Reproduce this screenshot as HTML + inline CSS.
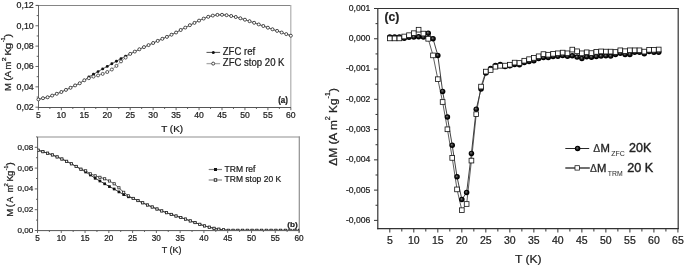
<!DOCTYPE html>
<html><head><meta charset="utf-8"><style>
html,body{margin:0;padding:0;background:#fff;}
body{width:685px;height:266px;overflow:hidden;}
svg{display:block;will-change:transform;}
text{font-family:"Liberation Sans", sans-serif;stroke:#222;stroke-width:0.24px;}
</style></head><body>
<svg width="685" height="266" viewBox="0 0 685 266" font-family='"Liberation Sans", sans-serif'>
<defs><radialGradient id="sph" cx="0.5" cy="0.5" r="0.5" fx="0.4" fy="0.38"><stop offset="0" stop-color="#8a8a8a"/><stop offset="0.4" stop-color="#2a2a2a"/><stop offset="0.75" stop-color="#000"/><stop offset="1" stop-color="#000"/></radialGradient></defs>
<rect width="685" height="266" fill="#fff"/>
<line x1="36.00" y1="5.50" x2="291.00" y2="5.50" stroke="#858585" stroke-width="1"/>
<line x1="290.80" y1="5.00" x2="290.80" y2="107.50" stroke="#b0b0b0" stroke-width="1.2"/>
<line x1="38.50" y1="5.00" x2="38.50" y2="107.70" stroke="#666" stroke-width="1"/>
<line x1="38.00" y1="107.50" x2="291.00" y2="107.50" stroke="#555" stroke-width="1"/>
<line x1="38.40" y1="107.50" x2="38.40" y2="110.20" stroke="#555" stroke-width="0.9"/>
<text x="38.40" y="117.80" font-size="8.6" text-anchor="middle" font-weight="normal" fill="#222">5</text>
<line x1="49.88" y1="107.50" x2="49.88" y2="109.00" stroke="#555" stroke-width="0.9"/>
<line x1="61.35" y1="107.50" x2="61.35" y2="110.20" stroke="#555" stroke-width="0.9"/>
<text x="61.35" y="117.80" font-size="8.6" text-anchor="middle" font-weight="normal" fill="#222">10</text>
<line x1="72.82" y1="107.50" x2="72.82" y2="109.00" stroke="#555" stroke-width="0.9"/>
<line x1="84.30" y1="107.50" x2="84.30" y2="110.20" stroke="#555" stroke-width="0.9"/>
<text x="84.30" y="117.80" font-size="8.6" text-anchor="middle" font-weight="normal" fill="#222">15</text>
<line x1="95.78" y1="107.50" x2="95.78" y2="109.00" stroke="#555" stroke-width="0.9"/>
<line x1="107.25" y1="107.50" x2="107.25" y2="110.20" stroke="#555" stroke-width="0.9"/>
<text x="107.25" y="117.80" font-size="8.6" text-anchor="middle" font-weight="normal" fill="#222">20</text>
<line x1="118.72" y1="107.50" x2="118.72" y2="109.00" stroke="#555" stroke-width="0.9"/>
<line x1="130.20" y1="107.50" x2="130.20" y2="110.20" stroke="#555" stroke-width="0.9"/>
<text x="130.20" y="117.80" font-size="8.6" text-anchor="middle" font-weight="normal" fill="#222">25</text>
<line x1="141.67" y1="107.50" x2="141.67" y2="109.00" stroke="#555" stroke-width="0.9"/>
<line x1="153.15" y1="107.50" x2="153.15" y2="110.20" stroke="#555" stroke-width="0.9"/>
<text x="153.15" y="117.80" font-size="8.6" text-anchor="middle" font-weight="normal" fill="#222">30</text>
<line x1="164.62" y1="107.50" x2="164.62" y2="109.00" stroke="#555" stroke-width="0.9"/>
<line x1="176.10" y1="107.50" x2="176.10" y2="110.20" stroke="#555" stroke-width="0.9"/>
<text x="176.10" y="117.80" font-size="8.6" text-anchor="middle" font-weight="normal" fill="#222">35</text>
<line x1="187.57" y1="107.50" x2="187.57" y2="109.00" stroke="#555" stroke-width="0.9"/>
<line x1="199.05" y1="107.50" x2="199.05" y2="110.20" stroke="#555" stroke-width="0.9"/>
<text x="199.05" y="117.80" font-size="8.6" text-anchor="middle" font-weight="normal" fill="#222">40</text>
<line x1="210.53" y1="107.50" x2="210.53" y2="109.00" stroke="#555" stroke-width="0.9"/>
<line x1="222.00" y1="107.50" x2="222.00" y2="110.20" stroke="#555" stroke-width="0.9"/>
<text x="222.00" y="117.80" font-size="8.6" text-anchor="middle" font-weight="normal" fill="#222">45</text>
<line x1="233.47" y1="107.50" x2="233.47" y2="109.00" stroke="#555" stroke-width="0.9"/>
<line x1="244.95" y1="107.50" x2="244.95" y2="110.20" stroke="#555" stroke-width="0.9"/>
<text x="244.95" y="117.80" font-size="8.6" text-anchor="middle" font-weight="normal" fill="#222">50</text>
<line x1="256.43" y1="107.50" x2="256.43" y2="109.00" stroke="#555" stroke-width="0.9"/>
<line x1="267.90" y1="107.50" x2="267.90" y2="110.20" stroke="#555" stroke-width="0.9"/>
<text x="267.90" y="117.80" font-size="8.6" text-anchor="middle" font-weight="normal" fill="#222">55</text>
<line x1="279.38" y1="107.50" x2="279.38" y2="109.00" stroke="#555" stroke-width="0.9"/>
<line x1="290.85" y1="107.50" x2="290.85" y2="110.20" stroke="#555" stroke-width="0.9"/>
<text x="290.85" y="117.80" font-size="8.6" text-anchor="middle" font-weight="normal" fill="#222">60</text>
<line x1="38.50" y1="107.20" x2="35.50" y2="107.20" stroke="#555" stroke-width="0.9"/>
<text x="33.80" y="110.00" font-size="8.9" text-anchor="end" font-weight="normal" fill="#222">0,02</text>
<line x1="38.50" y1="97.02" x2="36.70" y2="97.02" stroke="#555" stroke-width="0.9"/>
<line x1="38.50" y1="86.84" x2="35.50" y2="86.84" stroke="#555" stroke-width="0.9"/>
<text x="33.80" y="89.64" font-size="8.9" text-anchor="end" font-weight="normal" fill="#222">0,04</text>
<line x1="38.50" y1="76.66" x2="36.70" y2="76.66" stroke="#555" stroke-width="0.9"/>
<line x1="38.50" y1="66.48" x2="35.50" y2="66.48" stroke="#555" stroke-width="0.9"/>
<text x="33.80" y="69.28" font-size="8.9" text-anchor="end" font-weight="normal" fill="#222">0,06</text>
<line x1="38.50" y1="56.30" x2="36.70" y2="56.30" stroke="#555" stroke-width="0.9"/>
<line x1="38.50" y1="46.12" x2="35.50" y2="46.12" stroke="#555" stroke-width="0.9"/>
<text x="33.80" y="48.92" font-size="8.9" text-anchor="end" font-weight="normal" fill="#222">0,08</text>
<line x1="38.50" y1="35.94" x2="36.70" y2="35.94" stroke="#555" stroke-width="0.9"/>
<line x1="38.50" y1="25.76" x2="35.50" y2="25.76" stroke="#555" stroke-width="0.9"/>
<text x="33.80" y="28.56" font-size="8.9" text-anchor="end" font-weight="normal" fill="#222">0,10</text>
<line x1="38.50" y1="15.58" x2="36.70" y2="15.58" stroke="#555" stroke-width="0.9"/>
<line x1="38.50" y1="5.40" x2="35.50" y2="5.40" stroke="#555" stroke-width="0.9"/>
<text x="33.80" y="8.20" font-size="8.9" text-anchor="end" font-weight="normal" fill="#222">0,12</text>
<text x="161.20" y="131.80" font-size="9.7" text-anchor="start" font-weight="normal" fill="#222" textLength="21.9" lengthAdjust="spacingAndGlyphs">T (K)</text>
<g transform="translate(11.2,90.6) rotate(-90)">
<text x="-0.49" y="0.00" font-size="9.9" fill="#222" textLength="7.89" lengthAdjust="spacingAndGlyphs">M</text>
<text x="9.81" y="0.00" font-size="9.9" fill="#222" textLength="3.39" lengthAdjust="spacingAndGlyphs">(</text>
<text x="13.21" y="0.00" font-size="9.9" fill="#222" textLength="6.59" lengthAdjust="spacingAndGlyphs">A</text>
<text x="21.01" y="0.00" font-size="9.9" fill="#222" textLength="7.79" lengthAdjust="spacingAndGlyphs">m</text>
<text x="29.25" y="-5.40" font-size="5.9" fill="#222" textLength="3.91" lengthAdjust="spacingAndGlyphs">2</text>
<text x="35.01" y="0.00" font-size="9.9" fill="#222" textLength="6.99" lengthAdjust="spacingAndGlyphs">K</text>
<text x="41.41" y="0.00" font-size="9.9" fill="#222" textLength="6.59" lengthAdjust="spacingAndGlyphs">g</text>
<text x="48.25" y="-6.40" font-size="5.9" fill="#222" textLength="5.11" lengthAdjust="spacingAndGlyphs">-1</text>
<text x="53.21" y="0.00" font-size="9.9" fill="#222" textLength="3.79" lengthAdjust="spacingAndGlyphs">)</text>
</g>
<polyline fill="none" stroke="#111" stroke-width="0.7" points="38.40,99.40 42.99,98.20 47.58,97.30 52.17,95.60 56.76,93.80 61.35,92.00 65.94,89.90 70.53,87.80 75.12,85.40 79.71,83.30 84.30,80.30 88.89,76.90 93.48,74.30 98.07,71.60 102.66,68.90 107.25,66.40 111.84,63.80 116.43,61.20 121.02,58.60 125.61,56.10 130.20,53.90 134.79,51.60 139.38,49.30 143.97,47.10 148.56,45.10 153.15,43.00 157.74,40.90 162.33,38.80 166.92,36.90 171.51,34.70 176.10,32.50 180.69,30.00 185.28,27.60 189.87,25.20 194.46,22.90 199.05,20.60 203.64,18.60 208.23,16.80 212.82,15.60 217.41,14.90 222.00,14.80 226.59,15.20 231.18,16.00 235.77,17.00 240.36,18.30 244.95,19.70 249.54,21.20 254.13,22.80 258.72,24.40 263.31,26.00 267.90,27.70 272.49,29.30 277.08,30.90 281.67,32.50 286.26,34.10 290.85,35.70"/>
<polyline fill="none" stroke="#777" stroke-width="0.7" points="38.40,99.40 42.99,98.20 47.58,97.30 52.17,95.60 56.76,93.80 61.35,92.00 65.94,89.90 70.53,87.80 75.12,85.40 79.71,83.30 84.30,80.30 88.89,78.20 93.48,76.60 98.07,75.40 102.66,73.90 107.25,72.00 111.84,69.50 116.43,65.90 121.02,61.40 125.61,57.60 130.20,53.90 134.79,51.60 139.38,49.30 143.97,47.10 148.56,45.10 153.15,43.00 157.74,40.90 162.33,38.80 166.92,36.90 171.51,34.70 176.10,32.50 180.69,30.00 185.28,27.60 189.87,25.20 194.46,22.90 199.05,20.60 203.64,18.60 208.23,16.80 212.82,15.60 217.41,14.90 222.00,14.80 226.59,15.20 231.18,16.00 235.77,17.00 240.36,18.30 244.95,19.70 249.54,21.20 254.13,22.80 258.72,24.40 263.31,26.00 267.90,27.70 272.49,29.30 277.08,30.90 281.67,32.50 286.26,34.10 290.85,35.70"/>
<circle cx="38.40" cy="99.40" r="1.45" fill="#111"/>
<circle cx="42.99" cy="98.20" r="1.45" fill="#111"/>
<circle cx="47.58" cy="97.30" r="1.45" fill="#111"/>
<circle cx="52.17" cy="95.60" r="1.45" fill="#111"/>
<circle cx="56.76" cy="93.80" r="1.45" fill="#111"/>
<circle cx="61.35" cy="92.00" r="1.45" fill="#111"/>
<circle cx="65.94" cy="89.90" r="1.45" fill="#111"/>
<circle cx="70.53" cy="87.80" r="1.45" fill="#111"/>
<circle cx="75.12" cy="85.40" r="1.45" fill="#111"/>
<circle cx="79.71" cy="83.30" r="1.45" fill="#111"/>
<circle cx="84.30" cy="80.30" r="1.45" fill="#111"/>
<circle cx="88.89" cy="76.90" r="1.45" fill="#111"/>
<circle cx="93.48" cy="74.30" r="1.45" fill="#111"/>
<circle cx="98.07" cy="71.60" r="1.45" fill="#111"/>
<circle cx="102.66" cy="68.90" r="1.45" fill="#111"/>
<circle cx="107.25" cy="66.40" r="1.45" fill="#111"/>
<circle cx="111.84" cy="63.80" r="1.45" fill="#111"/>
<circle cx="116.43" cy="61.20" r="1.45" fill="#111"/>
<circle cx="121.02" cy="58.60" r="1.45" fill="#111"/>
<circle cx="125.61" cy="56.10" r="1.45" fill="#111"/>
<circle cx="130.20" cy="53.90" r="1.45" fill="#111"/>
<circle cx="134.79" cy="51.60" r="1.45" fill="#111"/>
<circle cx="139.38" cy="49.30" r="1.45" fill="#111"/>
<circle cx="143.97" cy="47.10" r="1.45" fill="#111"/>
<circle cx="148.56" cy="45.10" r="1.45" fill="#111"/>
<circle cx="153.15" cy="43.00" r="1.45" fill="#111"/>
<circle cx="157.74" cy="40.90" r="1.45" fill="#111"/>
<circle cx="162.33" cy="38.80" r="1.45" fill="#111"/>
<circle cx="166.92" cy="36.90" r="1.45" fill="#111"/>
<circle cx="171.51" cy="34.70" r="1.45" fill="#111"/>
<circle cx="176.10" cy="32.50" r="1.45" fill="#111"/>
<circle cx="180.69" cy="30.00" r="1.45" fill="#111"/>
<circle cx="185.28" cy="27.60" r="1.45" fill="#111"/>
<circle cx="189.87" cy="25.20" r="1.45" fill="#111"/>
<circle cx="194.46" cy="22.90" r="1.45" fill="#111"/>
<circle cx="199.05" cy="20.60" r="1.45" fill="#111"/>
<circle cx="203.64" cy="18.60" r="1.45" fill="#111"/>
<circle cx="208.23" cy="16.80" r="1.45" fill="#111"/>
<circle cx="212.82" cy="15.60" r="1.45" fill="#111"/>
<circle cx="217.41" cy="14.90" r="1.45" fill="#111"/>
<circle cx="222.00" cy="14.80" r="1.45" fill="#111"/>
<circle cx="226.59" cy="15.20" r="1.45" fill="#111"/>
<circle cx="231.18" cy="16.00" r="1.45" fill="#111"/>
<circle cx="235.77" cy="17.00" r="1.45" fill="#111"/>
<circle cx="240.36" cy="18.30" r="1.45" fill="#111"/>
<circle cx="244.95" cy="19.70" r="1.45" fill="#111"/>
<circle cx="249.54" cy="21.20" r="1.45" fill="#111"/>
<circle cx="254.13" cy="22.80" r="1.45" fill="#111"/>
<circle cx="258.72" cy="24.40" r="1.45" fill="#111"/>
<circle cx="263.31" cy="26.00" r="1.45" fill="#111"/>
<circle cx="267.90" cy="27.70" r="1.45" fill="#111"/>
<circle cx="272.49" cy="29.30" r="1.45" fill="#111"/>
<circle cx="277.08" cy="30.90" r="1.45" fill="#111"/>
<circle cx="281.67" cy="32.50" r="1.45" fill="#111"/>
<circle cx="286.26" cy="34.10" r="1.45" fill="#111"/>
<circle cx="290.85" cy="35.70" r="1.45" fill="#111"/>
<circle cx="38.40" cy="99.40" r="1.5" fill="#fff" stroke="#333" stroke-width="0.8"/>
<circle cx="42.99" cy="98.20" r="1.5" fill="#fff" stroke="#333" stroke-width="0.8"/>
<circle cx="47.58" cy="97.30" r="1.5" fill="#fff" stroke="#333" stroke-width="0.8"/>
<circle cx="52.17" cy="95.60" r="1.5" fill="#fff" stroke="#333" stroke-width="0.8"/>
<circle cx="56.76" cy="93.80" r="1.5" fill="#fff" stroke="#333" stroke-width="0.8"/>
<circle cx="61.35" cy="92.00" r="1.5" fill="#fff" stroke="#333" stroke-width="0.8"/>
<circle cx="65.94" cy="89.90" r="1.5" fill="#fff" stroke="#333" stroke-width="0.8"/>
<circle cx="70.53" cy="87.80" r="1.5" fill="#fff" stroke="#333" stroke-width="0.8"/>
<circle cx="75.12" cy="85.40" r="1.5" fill="#fff" stroke="#333" stroke-width="0.8"/>
<circle cx="79.71" cy="83.30" r="1.5" fill="#fff" stroke="#333" stroke-width="0.8"/>
<circle cx="84.30" cy="80.30" r="1.5" fill="#fff" stroke="#333" stroke-width="0.8"/>
<circle cx="88.89" cy="78.20" r="1.5" fill="#fff" stroke="#333" stroke-width="0.8"/>
<circle cx="93.48" cy="76.60" r="1.5" fill="#fff" stroke="#333" stroke-width="0.8"/>
<circle cx="98.07" cy="75.40" r="1.5" fill="#fff" stroke="#333" stroke-width="0.8"/>
<circle cx="102.66" cy="73.90" r="1.5" fill="#fff" stroke="#333" stroke-width="0.8"/>
<circle cx="107.25" cy="72.00" r="1.5" fill="#fff" stroke="#333" stroke-width="0.8"/>
<circle cx="111.84" cy="69.50" r="1.5" fill="#fff" stroke="#333" stroke-width="0.8"/>
<circle cx="116.43" cy="65.90" r="1.5" fill="#fff" stroke="#333" stroke-width="0.8"/>
<circle cx="121.02" cy="61.40" r="1.5" fill="#fff" stroke="#333" stroke-width="0.8"/>
<circle cx="125.61" cy="57.60" r="1.5" fill="#fff" stroke="#333" stroke-width="0.8"/>
<circle cx="130.20" cy="53.90" r="1.5" fill="#fff" stroke="#333" stroke-width="0.8"/>
<circle cx="134.79" cy="51.60" r="1.5" fill="#fff" stroke="#333" stroke-width="0.8"/>
<circle cx="139.38" cy="49.30" r="1.5" fill="#fff" stroke="#333" stroke-width="0.8"/>
<circle cx="143.97" cy="47.10" r="1.5" fill="#fff" stroke="#333" stroke-width="0.8"/>
<circle cx="148.56" cy="45.10" r="1.5" fill="#fff" stroke="#333" stroke-width="0.8"/>
<circle cx="153.15" cy="43.00" r="1.5" fill="#fff" stroke="#333" stroke-width="0.8"/>
<circle cx="157.74" cy="40.90" r="1.5" fill="#fff" stroke="#333" stroke-width="0.8"/>
<circle cx="162.33" cy="38.80" r="1.5" fill="#fff" stroke="#333" stroke-width="0.8"/>
<circle cx="166.92" cy="36.90" r="1.5" fill="#fff" stroke="#333" stroke-width="0.8"/>
<circle cx="171.51" cy="34.70" r="1.5" fill="#fff" stroke="#333" stroke-width="0.8"/>
<circle cx="176.10" cy="32.50" r="1.5" fill="#fff" stroke="#333" stroke-width="0.8"/>
<circle cx="180.69" cy="30.00" r="1.5" fill="#fff" stroke="#333" stroke-width="0.8"/>
<circle cx="185.28" cy="27.60" r="1.5" fill="#fff" stroke="#333" stroke-width="0.8"/>
<circle cx="189.87" cy="25.20" r="1.5" fill="#fff" stroke="#333" stroke-width="0.8"/>
<circle cx="194.46" cy="22.90" r="1.5" fill="#fff" stroke="#333" stroke-width="0.8"/>
<circle cx="199.05" cy="20.60" r="1.5" fill="#fff" stroke="#333" stroke-width="0.8"/>
<circle cx="203.64" cy="18.60" r="1.5" fill="#fff" stroke="#333" stroke-width="0.8"/>
<circle cx="208.23" cy="16.80" r="1.5" fill="#fff" stroke="#333" stroke-width="0.8"/>
<circle cx="212.82" cy="15.60" r="1.5" fill="#fff" stroke="#333" stroke-width="0.8"/>
<circle cx="217.41" cy="14.90" r="1.5" fill="#fff" stroke="#333" stroke-width="0.8"/>
<circle cx="222.00" cy="14.80" r="1.5" fill="#fff" stroke="#333" stroke-width="0.8"/>
<circle cx="226.59" cy="15.20" r="1.5" fill="#fff" stroke="#333" stroke-width="0.8"/>
<circle cx="231.18" cy="16.00" r="1.5" fill="#fff" stroke="#333" stroke-width="0.8"/>
<circle cx="235.77" cy="17.00" r="1.5" fill="#fff" stroke="#333" stroke-width="0.8"/>
<circle cx="240.36" cy="18.30" r="1.5" fill="#fff" stroke="#333" stroke-width="0.8"/>
<circle cx="244.95" cy="19.70" r="1.5" fill="#fff" stroke="#333" stroke-width="0.8"/>
<circle cx="249.54" cy="21.20" r="1.5" fill="#fff" stroke="#333" stroke-width="0.8"/>
<circle cx="254.13" cy="22.80" r="1.5" fill="#fff" stroke="#333" stroke-width="0.8"/>
<circle cx="258.72" cy="24.40" r="1.5" fill="#fff" stroke="#333" stroke-width="0.8"/>
<circle cx="263.31" cy="26.00" r="1.5" fill="#fff" stroke="#333" stroke-width="0.8"/>
<circle cx="267.90" cy="27.70" r="1.5" fill="#fff" stroke="#333" stroke-width="0.8"/>
<circle cx="272.49" cy="29.30" r="1.5" fill="#fff" stroke="#333" stroke-width="0.8"/>
<circle cx="277.08" cy="30.90" r="1.5" fill="#fff" stroke="#333" stroke-width="0.8"/>
<circle cx="281.67" cy="32.50" r="1.5" fill="#fff" stroke="#333" stroke-width="0.8"/>
<circle cx="286.26" cy="34.10" r="1.5" fill="#fff" stroke="#333" stroke-width="0.8"/>
<circle cx="290.85" cy="35.70" r="1.5" fill="#fff" stroke="#333" stroke-width="0.8"/>
<line x1="206.50" y1="52.40" x2="220.10" y2="52.40" stroke="#222" stroke-width="0.8"/>
<circle cx="213.3" cy="52.4" r="1.5" fill="#111"/>
<line x1="206.50" y1="63.60" x2="220.10" y2="63.60" stroke="#aaa" stroke-width="1.3"/>
<circle cx="213.2" cy="63.6" r="1.5" fill="#fff" stroke="#333" stroke-width="0.9"/>
<text x="222.80" y="55.00" font-size="10.0" text-anchor="start" font-weight="normal" fill="#222" textLength="32.3" lengthAdjust="spacingAndGlyphs">ZFC ref</text>
<text x="222.80" y="65.60" font-size="10.0" text-anchor="start" font-weight="normal" fill="#222" textLength="61.7" lengthAdjust="spacingAndGlyphs">ZFC stop 20 K</text>
<text x="278.20" y="102.60" font-size="8.2" text-anchor="start" font-weight="bold" fill="#222" textLength="9.8" lengthAdjust="spacingAndGlyphs">(a)</text>
<line x1="37.50" y1="137.00" x2="299.90" y2="137.00" stroke="#8f8f8f" stroke-width="1.2"/>
<line x1="299.30" y1="136.40" x2="299.30" y2="232.50" stroke="#8f8f8f" stroke-width="1.2"/>
<line x1="37.60" y1="137.00" x2="37.60" y2="231.00" stroke="#555" stroke-width="1"/>
<line x1="37.00" y1="230.60" x2="299.50" y2="230.60" stroke="#555" stroke-width="1"/>
<line x1="37.50" y1="230.60" x2="37.50" y2="233.00" stroke="#555" stroke-width="0.9"/>
<text x="37.50" y="241.00" font-size="8.2" text-anchor="middle" font-weight="normal" fill="#222">5</text>
<line x1="49.39" y1="230.60" x2="49.39" y2="232.00" stroke="#555" stroke-width="0.9"/>
<line x1="61.27" y1="230.60" x2="61.27" y2="233.00" stroke="#555" stroke-width="0.9"/>
<text x="61.27" y="241.00" font-size="8.2" text-anchor="middle" font-weight="normal" fill="#222">10</text>
<line x1="73.16" y1="230.60" x2="73.16" y2="232.00" stroke="#555" stroke-width="0.9"/>
<line x1="85.05" y1="230.60" x2="85.05" y2="233.00" stroke="#555" stroke-width="0.9"/>
<text x="85.05" y="241.00" font-size="8.2" text-anchor="middle" font-weight="normal" fill="#222">15</text>
<line x1="96.94" y1="230.60" x2="96.94" y2="232.00" stroke="#555" stroke-width="0.9"/>
<line x1="108.83" y1="230.60" x2="108.83" y2="233.00" stroke="#555" stroke-width="0.9"/>
<text x="108.83" y="241.00" font-size="8.2" text-anchor="middle" font-weight="normal" fill="#222">20</text>
<line x1="120.71" y1="230.60" x2="120.71" y2="232.00" stroke="#555" stroke-width="0.9"/>
<line x1="132.60" y1="230.60" x2="132.60" y2="233.00" stroke="#555" stroke-width="0.9"/>
<text x="132.60" y="241.00" font-size="8.2" text-anchor="middle" font-weight="normal" fill="#222">25</text>
<line x1="144.49" y1="230.60" x2="144.49" y2="232.00" stroke="#555" stroke-width="0.9"/>
<line x1="156.38" y1="230.60" x2="156.38" y2="233.00" stroke="#555" stroke-width="0.9"/>
<text x="156.38" y="241.00" font-size="8.2" text-anchor="middle" font-weight="normal" fill="#222">30</text>
<line x1="168.26" y1="230.60" x2="168.26" y2="232.00" stroke="#555" stroke-width="0.9"/>
<line x1="180.15" y1="230.60" x2="180.15" y2="233.00" stroke="#555" stroke-width="0.9"/>
<text x="180.15" y="241.00" font-size="8.2" text-anchor="middle" font-weight="normal" fill="#222">35</text>
<line x1="192.04" y1="230.60" x2="192.04" y2="232.00" stroke="#555" stroke-width="0.9"/>
<line x1="203.92" y1="230.60" x2="203.92" y2="233.00" stroke="#555" stroke-width="0.9"/>
<text x="203.92" y="241.00" font-size="8.2" text-anchor="middle" font-weight="normal" fill="#222">40</text>
<line x1="215.81" y1="230.60" x2="215.81" y2="232.00" stroke="#555" stroke-width="0.9"/>
<line x1="227.70" y1="230.60" x2="227.70" y2="233.00" stroke="#555" stroke-width="0.9"/>
<text x="227.70" y="241.00" font-size="8.2" text-anchor="middle" font-weight="normal" fill="#222">45</text>
<line x1="239.59" y1="230.60" x2="239.59" y2="232.00" stroke="#555" stroke-width="0.9"/>
<line x1="251.47" y1="230.60" x2="251.47" y2="233.00" stroke="#555" stroke-width="0.9"/>
<text x="251.47" y="241.00" font-size="8.2" text-anchor="middle" font-weight="normal" fill="#222">50</text>
<line x1="263.36" y1="230.60" x2="263.36" y2="232.00" stroke="#555" stroke-width="0.9"/>
<line x1="275.25" y1="230.60" x2="275.25" y2="233.00" stroke="#555" stroke-width="0.9"/>
<text x="275.25" y="241.00" font-size="8.2" text-anchor="middle" font-weight="normal" fill="#222">55</text>
<line x1="287.14" y1="230.60" x2="287.14" y2="232.00" stroke="#555" stroke-width="0.9"/>
<line x1="299.02" y1="230.60" x2="299.02" y2="233.00" stroke="#555" stroke-width="0.9"/>
<text x="299.02" y="241.00" font-size="8.2" text-anchor="middle" font-weight="normal" fill="#222">60</text>
<line x1="37.60" y1="230.50" x2="34.80" y2="230.50" stroke="#555" stroke-width="0.9"/>
<text x="33.30" y="233.00" font-size="8.1" text-anchor="end" font-weight="normal" fill="#222">0,00</text>
<line x1="37.60" y1="220.10" x2="36.00" y2="220.10" stroke="#555" stroke-width="0.9"/>
<line x1="37.60" y1="209.70" x2="34.80" y2="209.70" stroke="#555" stroke-width="0.9"/>
<text x="33.30" y="212.20" font-size="8.1" text-anchor="end" font-weight="normal" fill="#222">0,02</text>
<line x1="37.60" y1="199.30" x2="36.00" y2="199.30" stroke="#555" stroke-width="0.9"/>
<line x1="37.60" y1="188.90" x2="34.80" y2="188.90" stroke="#555" stroke-width="0.9"/>
<text x="33.30" y="191.40" font-size="8.1" text-anchor="end" font-weight="normal" fill="#222">0,04</text>
<line x1="37.60" y1="178.50" x2="36.00" y2="178.50" stroke="#555" stroke-width="0.9"/>
<line x1="37.60" y1="168.10" x2="34.80" y2="168.10" stroke="#555" stroke-width="0.9"/>
<text x="33.30" y="170.60" font-size="8.1" text-anchor="end" font-weight="normal" fill="#222">0,06</text>
<line x1="37.60" y1="157.70" x2="36.00" y2="157.70" stroke="#555" stroke-width="0.9"/>
<line x1="37.60" y1="147.30" x2="34.80" y2="147.30" stroke="#555" stroke-width="0.9"/>
<text x="33.30" y="149.80" font-size="8.1" text-anchor="end" font-weight="normal" fill="#222">0,08</text>
<line x1="37.60" y1="136.90" x2="36.00" y2="136.90" stroke="#555" stroke-width="0.9"/>
<text x="161.80" y="253.00" font-size="8.8" text-anchor="start" font-weight="normal" fill="#222" textLength="19.7" lengthAdjust="spacingAndGlyphs">T (K)</text>
<g transform="translate(12.9,216.1) rotate(-90)">
<text x="-0.56" y="0.00" font-size="9.4" fill="#222" textLength="7.93" lengthAdjust="spacingAndGlyphs">M</text>
<text x="8.94" y="0.00" font-size="9.4" fill="#222" textLength="3.23" lengthAdjust="spacingAndGlyphs">(</text>
<text x="13.24" y="0.00" font-size="9.4" fill="#222" textLength="5.93" lengthAdjust="spacingAndGlyphs">A</text>
<text x="23.84" y="0.00" font-size="9.4" fill="#222" textLength="7.03" lengthAdjust="spacingAndGlyphs">m</text>
<text x="29.65" y="-5.40" font-size="5.8" fill="#222" textLength="3.30" lengthAdjust="spacingAndGlyphs">2</text>
<text x="34.64" y="0.00" font-size="9.4" fill="#222" textLength="6.03" lengthAdjust="spacingAndGlyphs">K</text>
<text x="40.14" y="0.00" font-size="9.4" fill="#222" textLength="5.33" lengthAdjust="spacingAndGlyphs">g</text>
<text x="45.75" y="-5.00" font-size="5.8" fill="#222" textLength="4.70" lengthAdjust="spacingAndGlyphs">-1</text>
<text x="50.24" y="0.00" font-size="9.4" fill="#222" textLength="3.63" lengthAdjust="spacingAndGlyphs">)</text>
</g>
<clipPath id="cb"><rect x="37.6" y="137" width="261.6" height="93.1"/></clipPath><g clip-path="url(#cb)">
<polyline fill="none" stroke="#222" stroke-width="0.85" points="38.10,150.20 42.86,151.70 47.61,153.20 52.37,154.90 57.12,156.90 61.88,159.00 66.63,161.30 71.38,163.80 76.14,166.40 80.90,169.20 85.65,172.00 90.41,175.00 95.16,178.30 99.91,181.00 104.67,183.80 109.43,186.60 114.18,189.00 118.94,191.90 123.69,194.60 128.44,196.80 133.20,198.40 137.96,200.60 142.71,202.80 147.47,205.00 152.22,207.00 156.97,209.00 161.73,210.90 166.48,212.70 171.24,214.40 176.00,216.00 180.75,217.50 185.50,219.10 190.26,220.90 195.01,222.60 199.77,224.30 204.52,225.90 209.28,227.20 214.03,228.30 218.79,229.20 223.54,229.80 228.30,230.30 233.05,230.30 237.81,230.30 242.56,230.30 247.32,230.30 252.07,230.30 256.83,230.30 261.58,230.30 266.34,230.30 271.10,230.30 275.85,230.30 280.61,230.30 285.36,230.30 290.12,230.30 294.87,230.30 299.62,230.30"/>
<polyline fill="none" stroke="#444" stroke-width="0.85" points="38.10,150.20 42.86,151.70 47.61,153.20 52.37,154.90 57.12,156.90 61.88,159.00 66.63,161.30 71.38,163.80 76.14,166.40 80.90,169.20 85.65,170.80 90.41,173.80 95.16,175.80 99.91,177.30 104.67,178.80 109.43,181.00 114.18,183.80 118.94,187.80 123.69,192.30 128.44,195.80 133.20,198.40 137.96,200.60 142.71,202.80 147.47,205.00 152.22,207.00 156.97,209.00 161.73,210.90 166.48,212.70 171.24,214.40 176.00,216.00 180.75,217.50 185.50,219.10 190.26,220.90 195.01,222.60 199.77,224.30 204.52,225.90 209.28,227.20 214.03,228.30 218.79,229.20 223.54,229.80 228.30,230.30 233.05,230.30 237.81,230.30 242.56,230.30 247.32,230.30 252.07,230.30 256.83,230.30 261.58,230.30 266.34,230.30 271.10,230.30 275.85,230.30 280.61,230.30 285.36,230.30 290.12,230.30 294.87,230.30 299.62,230.30"/>
<rect x="36.75" y="148.85" width="2.7" height="2.7" fill="#111"/>
<rect x="41.51" y="150.35" width="2.7" height="2.7" fill="#111"/>
<rect x="46.26" y="151.85" width="2.7" height="2.7" fill="#111"/>
<rect x="51.02" y="153.55" width="2.7" height="2.7" fill="#111"/>
<rect x="55.77" y="155.55" width="2.7" height="2.7" fill="#111"/>
<rect x="60.52" y="157.65" width="2.7" height="2.7" fill="#111"/>
<rect x="65.28" y="159.95" width="2.7" height="2.7" fill="#111"/>
<rect x="70.03" y="162.45" width="2.7" height="2.7" fill="#111"/>
<rect x="74.79" y="165.05" width="2.7" height="2.7" fill="#111"/>
<rect x="79.55" y="167.85" width="2.7" height="2.7" fill="#111"/>
<rect x="84.30" y="170.65" width="2.7" height="2.7" fill="#111"/>
<rect x="89.06" y="173.65" width="2.7" height="2.7" fill="#111"/>
<rect x="93.81" y="176.95" width="2.7" height="2.7" fill="#111"/>
<rect x="98.56" y="179.65" width="2.7" height="2.7" fill="#111"/>
<rect x="103.32" y="182.45" width="2.7" height="2.7" fill="#111"/>
<rect x="108.08" y="185.25" width="2.7" height="2.7" fill="#111"/>
<rect x="112.83" y="187.65" width="2.7" height="2.7" fill="#111"/>
<rect x="117.59" y="190.55" width="2.7" height="2.7" fill="#111"/>
<rect x="122.34" y="193.25" width="2.7" height="2.7" fill="#111"/>
<rect x="127.09" y="195.45" width="2.7" height="2.7" fill="#111"/>
<rect x="131.85" y="197.05" width="2.7" height="2.7" fill="#111"/>
<rect x="136.61" y="199.25" width="2.7" height="2.7" fill="#111"/>
<rect x="141.36" y="201.45" width="2.7" height="2.7" fill="#111"/>
<rect x="146.12" y="203.65" width="2.7" height="2.7" fill="#111"/>
<rect x="150.87" y="205.65" width="2.7" height="2.7" fill="#111"/>
<rect x="155.62" y="207.65" width="2.7" height="2.7" fill="#111"/>
<rect x="160.38" y="209.55" width="2.7" height="2.7" fill="#111"/>
<rect x="165.13" y="211.35" width="2.7" height="2.7" fill="#111"/>
<rect x="169.89" y="213.05" width="2.7" height="2.7" fill="#111"/>
<rect x="174.65" y="214.65" width="2.7" height="2.7" fill="#111"/>
<rect x="179.40" y="216.15" width="2.7" height="2.7" fill="#111"/>
<rect x="184.16" y="217.75" width="2.7" height="2.7" fill="#111"/>
<rect x="188.91" y="219.55" width="2.7" height="2.7" fill="#111"/>
<rect x="193.66" y="221.25" width="2.7" height="2.7" fill="#111"/>
<rect x="198.42" y="222.95" width="2.7" height="2.7" fill="#111"/>
<rect x="203.17" y="224.55" width="2.7" height="2.7" fill="#111"/>
<rect x="207.93" y="225.85" width="2.7" height="2.7" fill="#111"/>
<rect x="212.69" y="226.95" width="2.7" height="2.7" fill="#111"/>
<rect x="217.44" y="227.85" width="2.7" height="2.7" fill="#111"/>
<rect x="222.19" y="228.45" width="2.7" height="2.7" fill="#111"/>
<rect x="226.95" y="228.95" width="2.7" height="2.7" fill="#111"/>
<rect x="231.70" y="228.95" width="2.7" height="2.7" fill="#111"/>
<rect x="236.46" y="228.95" width="2.7" height="2.7" fill="#111"/>
<rect x="241.22" y="228.95" width="2.7" height="2.7" fill="#111"/>
<rect x="245.97" y="228.95" width="2.7" height="2.7" fill="#111"/>
<rect x="250.72" y="228.95" width="2.7" height="2.7" fill="#111"/>
<rect x="255.48" y="228.95" width="2.7" height="2.7" fill="#111"/>
<rect x="260.23" y="228.95" width="2.7" height="2.7" fill="#111"/>
<rect x="264.99" y="228.95" width="2.7" height="2.7" fill="#111"/>
<rect x="269.75" y="228.95" width="2.7" height="2.7" fill="#111"/>
<rect x="274.50" y="228.95" width="2.7" height="2.7" fill="#111"/>
<rect x="279.25" y="228.95" width="2.7" height="2.7" fill="#111"/>
<rect x="284.01" y="228.95" width="2.7" height="2.7" fill="#111"/>
<rect x="288.76" y="228.95" width="2.7" height="2.7" fill="#111"/>
<rect x="293.52" y="228.95" width="2.7" height="2.7" fill="#111"/>
<rect x="298.27" y="228.95" width="2.7" height="2.7" fill="#111"/>
<rect x="37.00" y="149.10" width="2.2" height="2.2" fill="#fff" stroke="#222" stroke-width="0.75"/>
<rect x="41.76" y="150.60" width="2.2" height="2.2" fill="#fff" stroke="#222" stroke-width="0.75"/>
<rect x="46.51" y="152.10" width="2.2" height="2.2" fill="#fff" stroke="#222" stroke-width="0.75"/>
<rect x="51.27" y="153.80" width="2.2" height="2.2" fill="#fff" stroke="#222" stroke-width="0.75"/>
<rect x="56.02" y="155.80" width="2.2" height="2.2" fill="#fff" stroke="#222" stroke-width="0.75"/>
<rect x="60.77" y="157.90" width="2.2" height="2.2" fill="#fff" stroke="#222" stroke-width="0.75"/>
<rect x="65.53" y="160.20" width="2.2" height="2.2" fill="#fff" stroke="#222" stroke-width="0.75"/>
<rect x="70.28" y="162.70" width="2.2" height="2.2" fill="#fff" stroke="#222" stroke-width="0.75"/>
<rect x="75.04" y="165.30" width="2.2" height="2.2" fill="#fff" stroke="#222" stroke-width="0.75"/>
<rect x="79.80" y="168.10" width="2.2" height="2.2" fill="#fff" stroke="#222" stroke-width="0.75"/>
<rect x="84.55" y="169.70" width="2.2" height="2.2" fill="#fff" stroke="#222" stroke-width="0.75"/>
<rect x="89.31" y="172.70" width="2.2" height="2.2" fill="#fff" stroke="#222" stroke-width="0.75"/>
<rect x="94.06" y="174.70" width="2.2" height="2.2" fill="#fff" stroke="#222" stroke-width="0.75"/>
<rect x="98.81" y="176.20" width="2.2" height="2.2" fill="#fff" stroke="#222" stroke-width="0.75"/>
<rect x="103.57" y="177.70" width="2.2" height="2.2" fill="#fff" stroke="#222" stroke-width="0.75"/>
<rect x="108.33" y="179.90" width="2.2" height="2.2" fill="#fff" stroke="#222" stroke-width="0.75"/>
<rect x="113.08" y="182.70" width="2.2" height="2.2" fill="#fff" stroke="#222" stroke-width="0.75"/>
<rect x="117.84" y="186.70" width="2.2" height="2.2" fill="#fff" stroke="#222" stroke-width="0.75"/>
<rect x="122.59" y="191.20" width="2.2" height="2.2" fill="#fff" stroke="#222" stroke-width="0.75"/>
<rect x="127.34" y="194.70" width="2.2" height="2.2" fill="#fff" stroke="#222" stroke-width="0.75"/>
<rect x="132.10" y="197.30" width="2.2" height="2.2" fill="#fff" stroke="#222" stroke-width="0.75"/>
<rect x="136.86" y="199.50" width="2.2" height="2.2" fill="#fff" stroke="#222" stroke-width="0.75"/>
<rect x="141.61" y="201.70" width="2.2" height="2.2" fill="#fff" stroke="#222" stroke-width="0.75"/>
<rect x="146.37" y="203.90" width="2.2" height="2.2" fill="#fff" stroke="#222" stroke-width="0.75"/>
<rect x="151.12" y="205.90" width="2.2" height="2.2" fill="#fff" stroke="#222" stroke-width="0.75"/>
<rect x="155.88" y="207.90" width="2.2" height="2.2" fill="#fff" stroke="#222" stroke-width="0.75"/>
<rect x="160.63" y="209.80" width="2.2" height="2.2" fill="#fff" stroke="#222" stroke-width="0.75"/>
<rect x="165.38" y="211.60" width="2.2" height="2.2" fill="#fff" stroke="#222" stroke-width="0.75"/>
<rect x="170.14" y="213.30" width="2.2" height="2.2" fill="#fff" stroke="#222" stroke-width="0.75"/>
<rect x="174.90" y="214.90" width="2.2" height="2.2" fill="#fff" stroke="#222" stroke-width="0.75"/>
<rect x="179.65" y="216.40" width="2.2" height="2.2" fill="#fff" stroke="#222" stroke-width="0.75"/>
<rect x="184.41" y="218.00" width="2.2" height="2.2" fill="#fff" stroke="#222" stroke-width="0.75"/>
<rect x="189.16" y="219.80" width="2.2" height="2.2" fill="#fff" stroke="#222" stroke-width="0.75"/>
<rect x="193.91" y="221.50" width="2.2" height="2.2" fill="#fff" stroke="#222" stroke-width="0.75"/>
<rect x="198.67" y="223.20" width="2.2" height="2.2" fill="#fff" stroke="#222" stroke-width="0.75"/>
<rect x="203.42" y="224.80" width="2.2" height="2.2" fill="#fff" stroke="#222" stroke-width="0.75"/>
<rect x="208.18" y="226.10" width="2.2" height="2.2" fill="#fff" stroke="#222" stroke-width="0.75"/>
<rect x="212.94" y="227.20" width="2.2" height="2.2" fill="#fff" stroke="#222" stroke-width="0.75"/>
<rect x="217.69" y="228.10" width="2.2" height="2.2" fill="#fff" stroke="#222" stroke-width="0.75"/>
<rect x="222.44" y="228.70" width="2.2" height="2.2" fill="#fff" stroke="#222" stroke-width="0.75"/>
<rect x="227.20" y="229.20" width="2.2" height="2.2" fill="#fff" stroke="#222" stroke-width="0.75"/>
<rect x="231.95" y="229.20" width="2.2" height="2.2" fill="#fff" stroke="#222" stroke-width="0.75"/>
<rect x="236.71" y="229.20" width="2.2" height="2.2" fill="#fff" stroke="#222" stroke-width="0.75"/>
<rect x="241.47" y="229.20" width="2.2" height="2.2" fill="#fff" stroke="#222" stroke-width="0.75"/>
<rect x="246.22" y="229.20" width="2.2" height="2.2" fill="#fff" stroke="#222" stroke-width="0.75"/>
<rect x="250.97" y="229.20" width="2.2" height="2.2" fill="#fff" stroke="#222" stroke-width="0.75"/>
<rect x="255.73" y="229.20" width="2.2" height="2.2" fill="#fff" stroke="#222" stroke-width="0.75"/>
<rect x="260.48" y="229.20" width="2.2" height="2.2" fill="#fff" stroke="#222" stroke-width="0.75"/>
<rect x="265.24" y="229.20" width="2.2" height="2.2" fill="#fff" stroke="#222" stroke-width="0.75"/>
<rect x="270.00" y="229.20" width="2.2" height="2.2" fill="#fff" stroke="#222" stroke-width="0.75"/>
<rect x="274.75" y="229.20" width="2.2" height="2.2" fill="#fff" stroke="#222" stroke-width="0.75"/>
<rect x="279.50" y="229.20" width="2.2" height="2.2" fill="#fff" stroke="#222" stroke-width="0.75"/>
<rect x="284.26" y="229.20" width="2.2" height="2.2" fill="#fff" stroke="#222" stroke-width="0.75"/>
<rect x="289.01" y="229.20" width="2.2" height="2.2" fill="#fff" stroke="#222" stroke-width="0.75"/>
<rect x="293.77" y="229.20" width="2.2" height="2.2" fill="#fff" stroke="#222" stroke-width="0.75"/>
<rect x="298.52" y="229.20" width="2.2" height="2.2" fill="#fff" stroke="#222" stroke-width="0.75"/>
</g>
<line x1="208.70" y1="169.50" x2="222.00" y2="169.50" stroke="#808080" stroke-width="1.2"/>
<rect x="214" y="168" width="3.0" height="3.0" fill="#111"/>
<line x1="208.70" y1="180.00" x2="222.00" y2="180.00" stroke="#8a8a8a" stroke-width="1.2"/>
<rect x="214.25" y="178.75" width="2.5" height="2.5" fill="#fff" stroke="#222" stroke-width="0.9"/>
<text x="224.60" y="171.50" font-size="8.9" text-anchor="start" font-weight="normal" fill="#222" textLength="30.9" lengthAdjust="spacingAndGlyphs">TRM ref</text>
<text x="224.60" y="182.00" font-size="8.9" text-anchor="start" font-weight="normal" fill="#222" textLength="56.5" lengthAdjust="spacingAndGlyphs">TRM stop 20 K</text>
<text x="287.30" y="226.90" font-size="8.0" text-anchor="start" font-weight="bold" fill="#222" textLength="10.5" lengthAdjust="spacingAndGlyphs">(b)</text>
<line x1="377.80" y1="8.50" x2="678.60" y2="8.50" stroke="#333" stroke-width="1.1"/>
<line x1="678.20" y1="8.00" x2="678.20" y2="229.00" stroke="#333" stroke-width="1.2"/>
<line x1="377.80" y1="8.00" x2="377.80" y2="229.20" stroke="#333" stroke-width="1.2"/>
<line x1="377.20" y1="228.70" x2="678.80" y2="228.70" stroke="#333" stroke-width="1.2"/>
<line x1="389.80" y1="228.70" x2="389.80" y2="232.50" stroke="#333" stroke-width="1.0"/>
<text x="389.80" y="244.00" font-size="10.5" text-anchor="middle" font-weight="normal" fill="#222">5</text>
<line x1="401.81" y1="228.70" x2="401.81" y2="231.50" stroke="#333" stroke-width="1.0"/>
<line x1="413.81" y1="228.70" x2="413.81" y2="232.50" stroke="#333" stroke-width="1.0"/>
<text x="413.81" y="244.00" font-size="10.5" text-anchor="middle" font-weight="normal" fill="#222">10</text>
<line x1="425.81" y1="228.70" x2="425.81" y2="231.50" stroke="#333" stroke-width="1.0"/>
<line x1="437.82" y1="228.70" x2="437.82" y2="232.50" stroke="#333" stroke-width="1.0"/>
<text x="437.82" y="244.00" font-size="10.5" text-anchor="middle" font-weight="normal" fill="#222">15</text>
<line x1="449.82" y1="228.70" x2="449.82" y2="231.50" stroke="#333" stroke-width="1.0"/>
<line x1="461.83" y1="228.70" x2="461.83" y2="232.50" stroke="#333" stroke-width="1.0"/>
<text x="461.83" y="244.00" font-size="10.5" text-anchor="middle" font-weight="normal" fill="#222">20</text>
<line x1="473.84" y1="228.70" x2="473.84" y2="231.50" stroke="#333" stroke-width="1.0"/>
<line x1="485.84" y1="228.70" x2="485.84" y2="232.50" stroke="#333" stroke-width="1.0"/>
<text x="485.84" y="244.00" font-size="10.5" text-anchor="middle" font-weight="normal" fill="#222">25</text>
<line x1="497.85" y1="228.70" x2="497.85" y2="231.50" stroke="#333" stroke-width="1.0"/>
<line x1="509.85" y1="228.70" x2="509.85" y2="232.50" stroke="#333" stroke-width="1.0"/>
<text x="509.85" y="244.00" font-size="10.5" text-anchor="middle" font-weight="normal" fill="#222">30</text>
<line x1="521.86" y1="228.70" x2="521.86" y2="231.50" stroke="#333" stroke-width="1.0"/>
<line x1="533.86" y1="228.70" x2="533.86" y2="232.50" stroke="#333" stroke-width="1.0"/>
<text x="533.86" y="244.00" font-size="10.5" text-anchor="middle" font-weight="normal" fill="#222">35</text>
<line x1="545.87" y1="228.70" x2="545.87" y2="231.50" stroke="#333" stroke-width="1.0"/>
<line x1="557.87" y1="228.70" x2="557.87" y2="232.50" stroke="#333" stroke-width="1.0"/>
<text x="557.87" y="244.00" font-size="10.5" text-anchor="middle" font-weight="normal" fill="#222">40</text>
<line x1="569.88" y1="228.70" x2="569.88" y2="231.50" stroke="#333" stroke-width="1.0"/>
<line x1="581.88" y1="228.70" x2="581.88" y2="232.50" stroke="#333" stroke-width="1.0"/>
<text x="581.88" y="244.00" font-size="10.5" text-anchor="middle" font-weight="normal" fill="#222">45</text>
<line x1="593.88" y1="228.70" x2="593.88" y2="231.50" stroke="#333" stroke-width="1.0"/>
<line x1="605.89" y1="228.70" x2="605.89" y2="232.50" stroke="#333" stroke-width="1.0"/>
<text x="605.89" y="244.00" font-size="10.5" text-anchor="middle" font-weight="normal" fill="#222">50</text>
<line x1="617.89" y1="228.70" x2="617.89" y2="231.50" stroke="#333" stroke-width="1.0"/>
<line x1="629.90" y1="228.70" x2="629.90" y2="232.50" stroke="#333" stroke-width="1.0"/>
<text x="629.90" y="244.00" font-size="10.5" text-anchor="middle" font-weight="normal" fill="#222">55</text>
<line x1="641.90" y1="228.70" x2="641.90" y2="231.50" stroke="#333" stroke-width="1.0"/>
<line x1="653.91" y1="228.70" x2="653.91" y2="232.50" stroke="#333" stroke-width="1.0"/>
<text x="653.91" y="244.00" font-size="10.5" text-anchor="middle" font-weight="normal" fill="#222">60</text>
<line x1="665.91" y1="228.70" x2="665.91" y2="231.50" stroke="#333" stroke-width="1.0"/>
<line x1="677.92" y1="228.70" x2="677.92" y2="232.50" stroke="#333" stroke-width="1.0"/>
<text x="677.92" y="244.00" font-size="10.5" text-anchor="middle" font-weight="normal" fill="#222">65</text>
<line x1="377.80" y1="8.50" x2="374.00" y2="8.50" stroke="#333" stroke-width="1.0"/>
<text x="370.30" y="10.90" font-size="8.6" text-anchor="end" font-weight="normal" fill="#222">0,001</text>
<line x1="377.80" y1="23.64" x2="375.50" y2="23.64" stroke="#333" stroke-width="1.0"/>
<line x1="377.80" y1="38.77" x2="374.00" y2="38.77" stroke="#333" stroke-width="1.0"/>
<text x="370.30" y="41.17" font-size="8.6" text-anchor="end" font-weight="normal" fill="#222">0,000</text>
<line x1="377.80" y1="53.91" x2="375.50" y2="53.91" stroke="#333" stroke-width="1.0"/>
<line x1="377.80" y1="69.04" x2="374.00" y2="69.04" stroke="#333" stroke-width="1.0"/>
<text x="370.30" y="71.44" font-size="8.6" text-anchor="end" font-weight="normal" fill="#222">-0,001</text>
<line x1="377.80" y1="84.18" x2="375.50" y2="84.18" stroke="#333" stroke-width="1.0"/>
<line x1="377.80" y1="99.31" x2="374.00" y2="99.31" stroke="#333" stroke-width="1.0"/>
<text x="370.30" y="101.71" font-size="8.6" text-anchor="end" font-weight="normal" fill="#222">-0,002</text>
<line x1="377.80" y1="114.44" x2="375.50" y2="114.44" stroke="#333" stroke-width="1.0"/>
<line x1="377.80" y1="129.58" x2="374.00" y2="129.58" stroke="#333" stroke-width="1.0"/>
<text x="370.30" y="131.98" font-size="8.6" text-anchor="end" font-weight="normal" fill="#222">-0,003</text>
<line x1="377.80" y1="144.72" x2="375.50" y2="144.72" stroke="#333" stroke-width="1.0"/>
<line x1="377.80" y1="159.85" x2="374.00" y2="159.85" stroke="#333" stroke-width="1.0"/>
<text x="370.30" y="162.25" font-size="8.6" text-anchor="end" font-weight="normal" fill="#222">-0,004</text>
<line x1="377.80" y1="174.99" x2="375.50" y2="174.99" stroke="#333" stroke-width="1.0"/>
<line x1="377.80" y1="190.12" x2="374.00" y2="190.12" stroke="#333" stroke-width="1.0"/>
<text x="370.30" y="192.52" font-size="8.6" text-anchor="end" font-weight="normal" fill="#222">-0,005</text>
<line x1="377.80" y1="205.26" x2="375.50" y2="205.26" stroke="#333" stroke-width="1.0"/>
<line x1="377.80" y1="220.39" x2="374.00" y2="220.39" stroke="#333" stroke-width="1.0"/>
<text x="370.30" y="222.79" font-size="8.6" text-anchor="end" font-weight="normal" fill="#222">-0,006</text>
<text x="514.90" y="262.90" font-size="11.0" text-anchor="start" font-weight="normal" fill="#222" textLength="26.7" lengthAdjust="spacingAndGlyphs">T (K)</text>
<text transform="translate(336.7,165.7) rotate(-90)" font-size="10.8" fill="#222" textLength="77.6" lengthAdjust="spacingAndGlyphs">ΔM (A m<tspan font-size="6.5" dy="-6.4">2</tspan><tspan dy="6.4"> Kg</tspan><tspan font-size="6.5" dy="-6.4">-1</tspan><tspan dy="6.4">)</tspan></text>
<text x="384.40" y="21.40" font-size="12.4" text-anchor="start" font-weight="bold" fill="#222" textLength="14.8" lengthAdjust="spacingAndGlyphs">(c)</text>
<polyline fill="none" stroke="#111" stroke-width="0.8" points="389.80,37.10 394.60,37.10 399.40,37.10 404.21,38.30 409.01,37.20 413.81,37.10 418.61,36.70 423.41,37.10 428.22,33.20 433.02,38.70 437.82,55.40 442.62,91.40 447.42,117.00 452.23,145.30 457.03,176.80 461.83,199.50 466.63,192.50 471.43,153.40 476.24,109.20 481.04,89.00 485.84,73.00 490.64,68.50 495.44,65.50 500.25,64.60 505.05,66.60 509.85,65.80 514.65,64.40 519.45,64.70 524.26,62.60 529.06,61.50 533.86,60.70 538.66,58.60 543.46,57.50 548.27,57.50 553.07,56.40 557.87,56.30 562.67,55.60 567.47,56.30 572.28,55.80 577.08,57.10 581.88,58.40 586.68,56.70 591.48,57.20 596.29,56.50 601.09,56.10 605.89,55.80 610.69,56.10 615.49,54.40 620.30,53.30 625.10,54.40 629.90,54.40 634.70,52.30 639.50,52.30 644.31,53.70 649.11,51.60 653.91,52.30 658.71,52.30"/>
<polyline fill="none" stroke="#333" stroke-width="0.8" points="389.80,38.40 394.60,38.40 399.40,38.40 404.21,36.50 409.01,35.20 413.81,33.20 418.61,29.70 423.41,33.60 428.22,38.80 433.02,55.40 437.82,79.20 442.62,102.00 447.42,129.30 452.23,157.90 457.03,189.40 461.83,210.20 466.63,204.00 471.43,160.60 476.24,114.20 481.04,86.60 485.84,71.60 490.64,70.00 495.44,66.70 500.25,65.80 505.05,65.60 509.85,64.70 514.65,62.60 519.45,63.00 524.26,60.70 529.06,59.20 533.86,57.90 538.66,56.30 543.46,54.10 548.27,54.70 553.07,53.80 557.87,53.30 562.67,52.60 567.47,53.30 572.28,49.60 577.08,51.30 581.88,53.30 586.68,52.30 591.48,53.10 596.29,51.90 601.09,51.40 605.89,51.60 610.69,51.60 615.49,52.00 620.30,50.30 625.10,51.20 629.90,50.30 634.70,50.30 639.50,50.30 644.31,51.60 649.11,49.80 653.91,49.80 658.71,49.50"/>
<circle cx="389.80" cy="37.10" r="2.75" fill="url(#sph)"/>
<circle cx="394.60" cy="37.10" r="2.75" fill="url(#sph)"/>
<circle cx="399.40" cy="37.10" r="2.75" fill="url(#sph)"/>
<circle cx="404.21" cy="38.30" r="2.75" fill="url(#sph)"/>
<circle cx="409.01" cy="37.20" r="2.75" fill="url(#sph)"/>
<circle cx="413.81" cy="37.10" r="2.75" fill="url(#sph)"/>
<circle cx="418.61" cy="36.70" r="2.75" fill="url(#sph)"/>
<circle cx="423.41" cy="37.10" r="2.75" fill="url(#sph)"/>
<circle cx="428.22" cy="33.20" r="2.75" fill="url(#sph)"/>
<circle cx="433.02" cy="38.70" r="2.75" fill="url(#sph)"/>
<circle cx="437.82" cy="55.40" r="2.75" fill="url(#sph)"/>
<circle cx="442.62" cy="91.40" r="2.75" fill="url(#sph)"/>
<circle cx="447.42" cy="117.00" r="2.75" fill="url(#sph)"/>
<circle cx="452.23" cy="145.30" r="2.75" fill="url(#sph)"/>
<circle cx="457.03" cy="176.80" r="2.75" fill="url(#sph)"/>
<circle cx="461.83" cy="199.50" r="2.75" fill="url(#sph)"/>
<circle cx="466.63" cy="192.50" r="2.75" fill="url(#sph)"/>
<circle cx="471.43" cy="153.40" r="2.75" fill="url(#sph)"/>
<circle cx="476.24" cy="109.20" r="2.75" fill="url(#sph)"/>
<circle cx="481.04" cy="89.00" r="2.75" fill="url(#sph)"/>
<circle cx="485.84" cy="73.00" r="2.75" fill="url(#sph)"/>
<circle cx="490.64" cy="68.50" r="2.75" fill="url(#sph)"/>
<circle cx="495.44" cy="65.50" r="2.75" fill="url(#sph)"/>
<circle cx="500.25" cy="64.60" r="2.75" fill="url(#sph)"/>
<circle cx="505.05" cy="66.60" r="2.75" fill="url(#sph)"/>
<circle cx="509.85" cy="65.80" r="2.75" fill="url(#sph)"/>
<circle cx="514.65" cy="64.40" r="2.75" fill="url(#sph)"/>
<circle cx="519.45" cy="64.70" r="2.75" fill="url(#sph)"/>
<circle cx="524.26" cy="62.60" r="2.75" fill="url(#sph)"/>
<circle cx="529.06" cy="61.50" r="2.75" fill="url(#sph)"/>
<circle cx="533.86" cy="60.70" r="2.75" fill="url(#sph)"/>
<circle cx="538.66" cy="58.60" r="2.75" fill="url(#sph)"/>
<circle cx="543.46" cy="57.50" r="2.75" fill="url(#sph)"/>
<circle cx="548.27" cy="57.50" r="2.75" fill="url(#sph)"/>
<circle cx="553.07" cy="56.40" r="2.75" fill="url(#sph)"/>
<circle cx="557.87" cy="56.30" r="2.75" fill="url(#sph)"/>
<circle cx="562.67" cy="55.60" r="2.75" fill="url(#sph)"/>
<circle cx="567.47" cy="56.30" r="2.75" fill="url(#sph)"/>
<circle cx="572.28" cy="55.80" r="2.75" fill="url(#sph)"/>
<circle cx="577.08" cy="57.10" r="2.75" fill="url(#sph)"/>
<circle cx="581.88" cy="58.40" r="2.75" fill="url(#sph)"/>
<circle cx="586.68" cy="56.70" r="2.75" fill="url(#sph)"/>
<circle cx="591.48" cy="57.20" r="2.75" fill="url(#sph)"/>
<circle cx="596.29" cy="56.50" r="2.75" fill="url(#sph)"/>
<circle cx="601.09" cy="56.10" r="2.75" fill="url(#sph)"/>
<circle cx="605.89" cy="55.80" r="2.75" fill="url(#sph)"/>
<circle cx="610.69" cy="56.10" r="2.75" fill="url(#sph)"/>
<circle cx="615.49" cy="54.40" r="2.75" fill="url(#sph)"/>
<circle cx="620.30" cy="53.30" r="2.75" fill="url(#sph)"/>
<circle cx="625.10" cy="54.40" r="2.75" fill="url(#sph)"/>
<circle cx="629.90" cy="54.40" r="2.75" fill="url(#sph)"/>
<circle cx="634.70" cy="52.30" r="2.75" fill="url(#sph)"/>
<circle cx="639.50" cy="52.30" r="2.75" fill="url(#sph)"/>
<circle cx="644.31" cy="53.70" r="2.75" fill="url(#sph)"/>
<circle cx="649.11" cy="51.60" r="2.75" fill="url(#sph)"/>
<circle cx="653.91" cy="52.30" r="2.75" fill="url(#sph)"/>
<circle cx="658.71" cy="52.30" r="2.75" fill="url(#sph)"/>
<rect x="387.45" y="36.05" width="4.7" height="4.7" fill="#fff" stroke="#111" stroke-width="0.8"/>
<rect x="392.25" y="36.05" width="4.7" height="4.7" fill="#fff" stroke="#111" stroke-width="0.8"/>
<rect x="397.05" y="36.05" width="4.7" height="4.7" fill="#fff" stroke="#111" stroke-width="0.8"/>
<rect x="401.86" y="34.15" width="4.7" height="4.7" fill="#fff" stroke="#111" stroke-width="0.8"/>
<rect x="406.66" y="32.85" width="4.7" height="4.7" fill="#fff" stroke="#111" stroke-width="0.8"/>
<rect x="411.46" y="30.85" width="4.7" height="4.7" fill="#fff" stroke="#111" stroke-width="0.8"/>
<rect x="416.26" y="27.35" width="4.7" height="4.7" fill="#fff" stroke="#111" stroke-width="0.8"/>
<rect x="421.06" y="31.25" width="4.7" height="4.7" fill="#fff" stroke="#111" stroke-width="0.8"/>
<rect x="425.87" y="36.45" width="4.7" height="4.7" fill="#fff" stroke="#111" stroke-width="0.8"/>
<rect x="430.67" y="53.05" width="4.7" height="4.7" fill="#fff" stroke="#111" stroke-width="0.8"/>
<rect x="435.47" y="76.85" width="4.7" height="4.7" fill="#fff" stroke="#111" stroke-width="0.8"/>
<rect x="440.27" y="99.65" width="4.7" height="4.7" fill="#fff" stroke="#111" stroke-width="0.8"/>
<rect x="445.07" y="126.95" width="4.7" height="4.7" fill="#fff" stroke="#111" stroke-width="0.8"/>
<rect x="449.88" y="155.55" width="4.7" height="4.7" fill="#fff" stroke="#111" stroke-width="0.8"/>
<rect x="454.68" y="187.05" width="4.7" height="4.7" fill="#fff" stroke="#111" stroke-width="0.8"/>
<rect x="459.48" y="207.85" width="4.7" height="4.7" fill="#fff" stroke="#111" stroke-width="0.8"/>
<rect x="464.28" y="201.65" width="4.7" height="4.7" fill="#fff" stroke="#111" stroke-width="0.8"/>
<rect x="469.08" y="158.25" width="4.7" height="4.7" fill="#fff" stroke="#111" stroke-width="0.8"/>
<rect x="473.89" y="111.85" width="4.7" height="4.7" fill="#fff" stroke="#111" stroke-width="0.8"/>
<rect x="478.69" y="84.25" width="4.7" height="4.7" fill="#fff" stroke="#111" stroke-width="0.8"/>
<rect x="483.49" y="69.25" width="4.7" height="4.7" fill="#fff" stroke="#111" stroke-width="0.8"/>
<rect x="488.29" y="67.65" width="4.7" height="4.7" fill="#fff" stroke="#111" stroke-width="0.8"/>
<rect x="493.09" y="64.35" width="4.7" height="4.7" fill="#fff" stroke="#111" stroke-width="0.8"/>
<rect x="497.90" y="63.45" width="4.7" height="4.7" fill="#fff" stroke="#111" stroke-width="0.8"/>
<rect x="502.70" y="63.25" width="4.7" height="4.7" fill="#fff" stroke="#111" stroke-width="0.8"/>
<rect x="507.50" y="62.35" width="4.7" height="4.7" fill="#fff" stroke="#111" stroke-width="0.8"/>
<rect x="512.30" y="60.25" width="4.7" height="4.7" fill="#fff" stroke="#111" stroke-width="0.8"/>
<rect x="517.10" y="60.65" width="4.7" height="4.7" fill="#fff" stroke="#111" stroke-width="0.8"/>
<rect x="521.91" y="58.35" width="4.7" height="4.7" fill="#fff" stroke="#111" stroke-width="0.8"/>
<rect x="526.71" y="56.85" width="4.7" height="4.7" fill="#fff" stroke="#111" stroke-width="0.8"/>
<rect x="531.51" y="55.55" width="4.7" height="4.7" fill="#fff" stroke="#111" stroke-width="0.8"/>
<rect x="536.31" y="53.95" width="4.7" height="4.7" fill="#fff" stroke="#111" stroke-width="0.8"/>
<rect x="541.11" y="51.75" width="4.7" height="4.7" fill="#fff" stroke="#111" stroke-width="0.8"/>
<rect x="545.92" y="52.35" width="4.7" height="4.7" fill="#fff" stroke="#111" stroke-width="0.8"/>
<rect x="550.72" y="51.45" width="4.7" height="4.7" fill="#fff" stroke="#111" stroke-width="0.8"/>
<rect x="555.52" y="50.95" width="4.7" height="4.7" fill="#fff" stroke="#111" stroke-width="0.8"/>
<rect x="560.32" y="50.25" width="4.7" height="4.7" fill="#fff" stroke="#111" stroke-width="0.8"/>
<rect x="565.12" y="50.95" width="4.7" height="4.7" fill="#fff" stroke="#111" stroke-width="0.8"/>
<rect x="569.93" y="47.25" width="4.7" height="4.7" fill="#fff" stroke="#111" stroke-width="0.8"/>
<rect x="574.73" y="48.95" width="4.7" height="4.7" fill="#fff" stroke="#111" stroke-width="0.8"/>
<rect x="579.53" y="50.95" width="4.7" height="4.7" fill="#fff" stroke="#111" stroke-width="0.8"/>
<rect x="584.33" y="49.95" width="4.7" height="4.7" fill="#fff" stroke="#111" stroke-width="0.8"/>
<rect x="589.13" y="50.75" width="4.7" height="4.7" fill="#fff" stroke="#111" stroke-width="0.8"/>
<rect x="593.94" y="49.55" width="4.7" height="4.7" fill="#fff" stroke="#111" stroke-width="0.8"/>
<rect x="598.74" y="49.05" width="4.7" height="4.7" fill="#fff" stroke="#111" stroke-width="0.8"/>
<rect x="603.54" y="49.25" width="4.7" height="4.7" fill="#fff" stroke="#111" stroke-width="0.8"/>
<rect x="608.34" y="49.25" width="4.7" height="4.7" fill="#fff" stroke="#111" stroke-width="0.8"/>
<rect x="613.14" y="49.65" width="4.7" height="4.7" fill="#fff" stroke="#111" stroke-width="0.8"/>
<rect x="617.95" y="47.95" width="4.7" height="4.7" fill="#fff" stroke="#111" stroke-width="0.8"/>
<rect x="622.75" y="48.85" width="4.7" height="4.7" fill="#fff" stroke="#111" stroke-width="0.8"/>
<rect x="627.55" y="47.95" width="4.7" height="4.7" fill="#fff" stroke="#111" stroke-width="0.8"/>
<rect x="632.35" y="47.95" width="4.7" height="4.7" fill="#fff" stroke="#111" stroke-width="0.8"/>
<rect x="637.15" y="47.95" width="4.7" height="4.7" fill="#fff" stroke="#111" stroke-width="0.8"/>
<rect x="641.96" y="49.25" width="4.7" height="4.7" fill="#fff" stroke="#111" stroke-width="0.8"/>
<rect x="646.76" y="47.45" width="4.7" height="4.7" fill="#fff" stroke="#111" stroke-width="0.8"/>
<rect x="651.56" y="47.45" width="4.7" height="4.7" fill="#fff" stroke="#111" stroke-width="0.8"/>
<rect x="656.36" y="47.15" width="4.7" height="4.7" fill="#fff" stroke="#111" stroke-width="0.8"/>
<line x1="565.30" y1="148.50" x2="589.20" y2="148.50" stroke="#111" stroke-width="0.9"/>
<circle cx="577.6" cy="148.5" r="2.75" fill="url(#sph)"/>
<line x1="565.30" y1="168.00" x2="589.80" y2="168.00" stroke="#333" stroke-width="1.4"/>
<rect x="575.0" y="165.7" width="4.4" height="4.4" fill="#fff" stroke="#111" stroke-width="0.75"/>
<text x="593.2" y="151.9" font-size="11.4" fill="#333" stroke="#333" stroke-width="0.05" textLength="6.9" lengthAdjust="spacingAndGlyphs">Δ</text>
<text x="600.40" y="151.90" font-size="11.4" text-anchor="start" font-weight="normal" fill="#222" textLength="9.4" lengthAdjust="spacingAndGlyphs" style="stroke-width:0.35px">M</text>
<text x="611.20" y="156.20" font-size="7.6" text-anchor="start" font-weight="normal" fill="#333" textLength="13.6" lengthAdjust="spacingAndGlyphs" style="stroke-width:0.05px">ZFC</text>
<text x="629.00" y="151.80" font-size="12.4" text-anchor="start" font-weight="normal" fill="#222" textLength="22.2" lengthAdjust="spacingAndGlyphs" style="stroke-width:0.4px">20K</text>
<text x="589.9" y="171.8" font-size="11.4" fill="#333" stroke="#333" stroke-width="0.05" textLength="6.9" lengthAdjust="spacingAndGlyphs">Δ</text>
<text x="597.10" y="171.80" font-size="11.4" text-anchor="start" font-weight="normal" fill="#222" textLength="9.4" lengthAdjust="spacingAndGlyphs" style="stroke-width:0.35px">M</text>
<text x="607.80" y="176.00" font-size="7.6" text-anchor="start" font-weight="normal" fill="#333" textLength="14.8" lengthAdjust="spacingAndGlyphs" style="stroke-width:0.05px">TRM</text>
<text x="627.30" y="171.70" font-size="12.4" text-anchor="start" font-weight="normal" fill="#222" textLength="26.0" lengthAdjust="spacingAndGlyphs" style="stroke-width:0.4px">20 K</text>
</svg>
</body></html>
